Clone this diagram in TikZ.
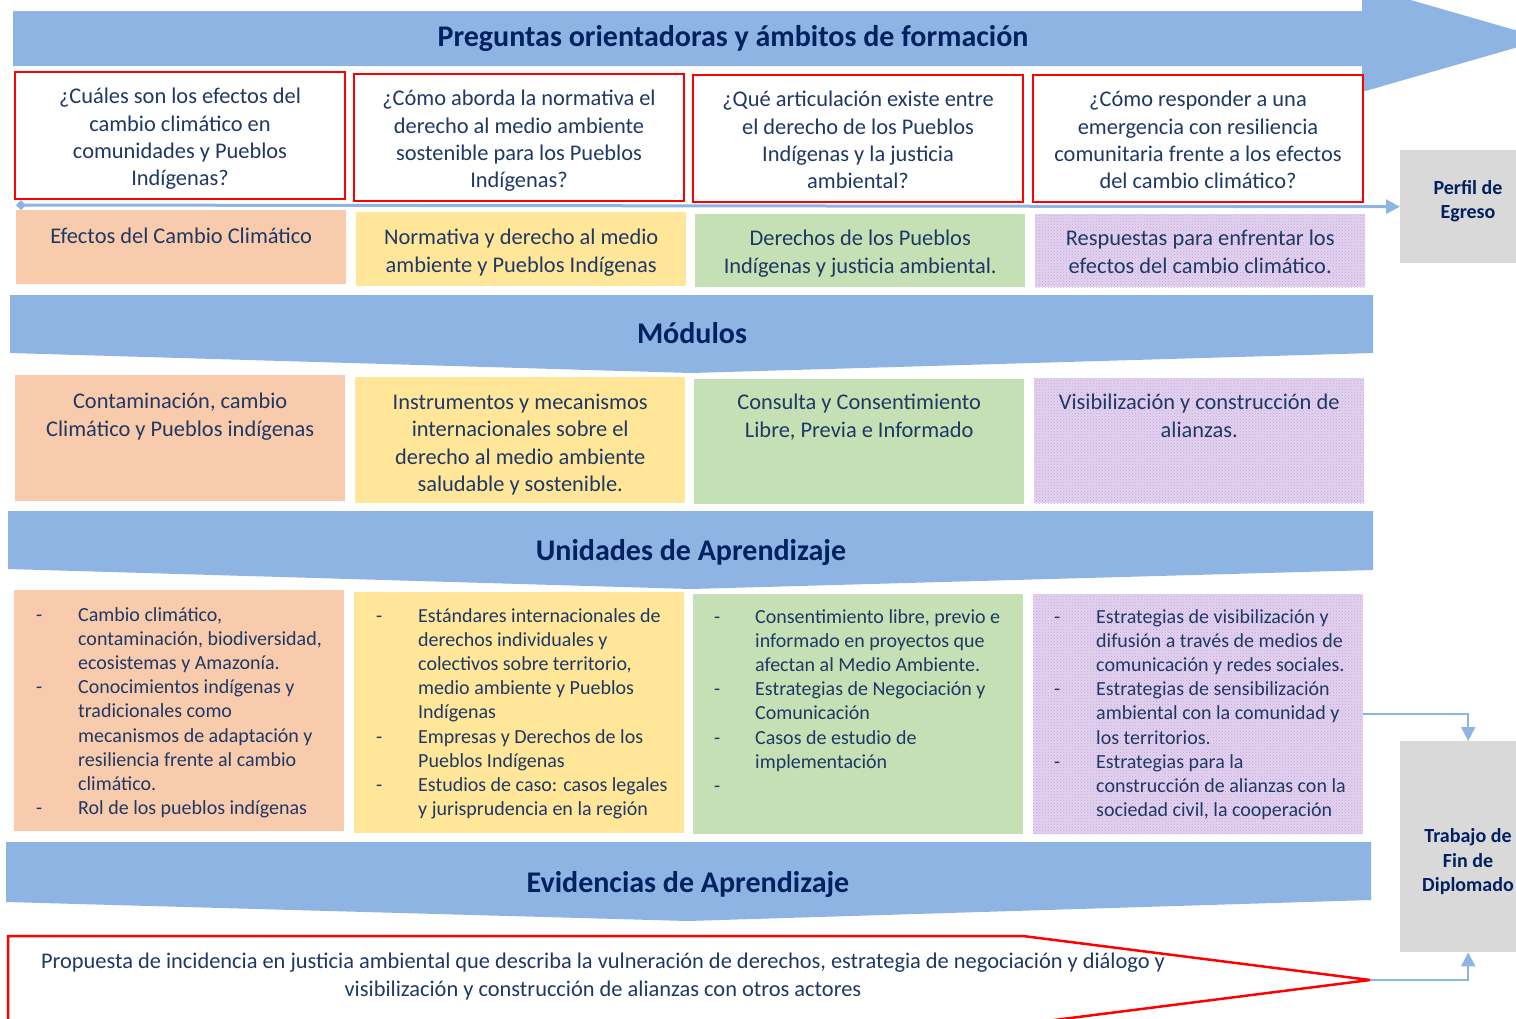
\documentclass[tikz,border=0pt]{standalone}
\usepackage{fontspec}
\setmainfont{Carlito}
\usetikzlibrary{positioning,patterns,arrows.meta}

\definecolor{banda}{HTML}{8EB4E3}
\definecolor{rojo}{HTML}{FF0000}
\definecolor{durazno}{HTML}{F8CBAD}
\definecolor{amarillo}{HTML}{FFE699}
\definecolor{verde}{HTML}{C5E0B4}
\definecolor{lila}{HTML}{E2D2EF}
\definecolor{lilapunto}{HTML}{C4A8DC}
\definecolor{gris}{HTML}{D9D9D9}
\definecolor{marino}{HTML}{002060}
\definecolor{azultexto}{HTML}{1F3864}

\begin{document}
\begin{tikzpicture}[
		x=1pt, y=-1pt,
		pregunta/.style = {draw=rojo, line width=2pt, fill=white, anchor=north west, inner sep=0pt, minimum width=330pt, minimum height=127pt},
		caja/.style = {anchor=north west, inner sep=0pt, minimum width=330pt},
		morado/.style = {fill=lila, postaction={pattern=crosshatch dots, pattern color=lilapunto}},
		texto/.style = {anchor=north, align=center, inner sep=0pt, text=azultexto, font=\fontsize{22.4}{27.3}\selectfont},
		lista/.style = {anchor=north west, inner sep=0pt, text=azultexto, font=\fontsize{20}{24.2}\selectfont},
		titulo/.style = {anchor=base, inner sep=0pt, text=marino, font=\fontsize{30}{34}\selectfont\bfseries},
		salida/.style = {fill=gris, anchor=north west, inner sep=0pt, minimum width=136pt},
		salidatexto/.style = {align=center, inner sep=0pt, text=marino, font=\fontsize{20}{24.5}\selectfont\bfseries},
		flecha/.style = {draw=banda, line width=2pt, -{Triangle[length=14pt, width=14pt]}}
	]
	\path[use as bounding box, clip] (0,0) rectangle (1516,1018);

	% Banners.
	\fill[banda] (13,11) -- (1362,11) -- (1362,-14) -- (1546,39) -- (1362,92) -- (1362,66) -- (13,66) -- cycle;
	\fill[banda] (10,295) -- (1373,295) -- (1373,353) -- (691,373) -- (10,353) -- cycle;
	\fill[banda] (8,511) -- (1373,511) -- (1373,570) -- (691,589) -- (8,569) -- cycle;
	\fill[banda] (6,842) -- (1371,842) -- (1371,900) -- (688,921) -- (6,902) -- cycle;
	\node[titulo] (tpreg) at (733,46) {Preguntas orientadoras y ámbitos de formación};
	\node[titulo] (tmod) at (692,343) {Módulos};
	\node[titulo] (tuni) at (691,560) {Unidades de Aprendizaje};
	\node[titulo] (tevi) at (688,892) {Evidencias de Aprendizaje};

	% Preguntas.
	\node[pregunta] (q1) at (14,71) {};
	\node[pregunta] (q2) at (353,73) {};
	\node[pregunta] (q3) at (692,74) {};
	\node[pregunta] (q4) at (1032,74) {};
	\node[texto, below=17pt of q1.north] {¿Cuáles son los efectos del\\cambio climático en\\comunidades y Pueblos\\Indígenas?};
	\node[texto, below=17pt of q2.north] {¿Cómo aborda la normativa el\\derecho al medio ambiente\\sostenible para los Pueblos\\Indígenas?};
	\node[texto, below=17pt of q3.north] {¿Qué articulación existe entre\\el derecho de los Pueblos\\Indígenas y la justicia\\ambiental?};
	\node[texto, below=17pt of q4.north] {¿Cómo responder a una\\emergencia con resiliencia\\comunitaria frente a los efectos\\del cambio climático?};

	% Ambitos.
	\node[caja, fill=durazno, minimum height=74pt] (a1) at (16,210) {};
	\node[caja, fill=amarillo, minimum height=74pt] (a2) at (356,212) {};
	\node[caja, fill=verde, minimum height=73pt] (a3) at (695,214) {};
	\node[caja, morado, minimum height=73pt] (a4) at (1035,214) {};
	\node[texto, below=18pt of a1.north] {Efectos del Cambio Climático};
	\node[texto, below=17pt of a2.north] {Normativa y derecho al medio\\ambiente y Pueblos Indígenas};
	\node[texto, below=16pt of a3.north] {Derechos de los Pueblos\\Indígenas y justicia ambiental.};
	\node[texto, below=16pt of a4.north] {Respuestas para enfrentar los\\efectos del cambio climático.};

	% Linea hacia el perfil.
	\node[salida, minimum height=113pt] (perfil) at (1400,150) {};
	\node[salidatexto] at (1468,201) {Perfil de\\Egreso};
	\coordinate (inicio) at (16,205);
	\draw[draw=banda, line width=3pt, {Diamond[length=10pt, width=10pt]}-{Triangle[length=14pt, width=14pt]}] (inicio) -- (perfil.west);

	% Modulos.
	\node[caja, fill=durazno, minimum height=126pt] (m1) at (15,375) {};
	\node[caja, fill=amarillo, minimum height=126pt] (m2) at (355,377) {};
	\node[caja, fill=verde, minimum height=125pt] (m3) at (694,379) {};
	\node[caja, morado, minimum height=125pt] (m4) at (1034,378) {};
	\node[texto, below=18pt of m1.north] {Contaminación, cambio\\Climático y Pueblos indígenas};
	\node[texto, below=17pt of m2.north] {Instrumentos y mecanismos\\internacionales sobre el\\derecho al medio ambiente\\saludable y sostenible.};
	\node[texto, below=15pt of m3.north] {Consulta y Consentimiento\\Libre, Previa e Informado};
	\node[texto, below=16pt of m4.north] {Visibilización y construcción de\\alianzas.};

	% Unidades.
	\node[caja, fill=durazno, minimum height=241pt] (u1) at (14,590) {};
	\node[caja, fill=amarillo, minimum height=241pt] (u2) at (354,592) {};
	\node[caja, fill=verde, minimum height=240pt] (u3) at (693,594) {};
	\node[caja, morado, minimum height=240pt] (u4) at (1033,594) {};
	\node[lista, below right=14pt and 22pt of u1.north west] {\begin{tabular}{@{}p{42pt}@{}l@{}}
		- & Cambio climático,\\
		  & contaminación, biodiversidad,\\
		  & ecosistemas y Amazonía.\\
		- & Conocimientos indígenas y\\
		  & tradicionales como\\
		  & mecanismos de adaptación y\\
		  & resiliencia frente al cambio\\
		  & climático.\\
		- & Rol de los pueblos indígenas
	\end{tabular}};
	\node[lista, below right=13pt and 22pt of u2.north west] {\begin{tabular}{@{}p{42pt}@{}l@{}}
		- & Estándares internacionales de\\
		  & derechos individuales y\\
		  & colectivos sobre territorio,\\
		  & medio ambiente y Pueblos\\
		  & Indígenas\\
		- & Empresas y Derechos de los\\
		  & Pueblos Indígenas\\
		- & Estudios de caso: casos legales\\
		  & y jurisprudencia en la región
	\end{tabular}};
	\node[lista, below right=12pt and 21pt of u3.north west] {\begin{tabular}{@{}p{41pt}@{}l@{}}
		- & Consentimiento libre, previo e\\
		  & informado en proyectos que\\
		  & afectan al Medio Ambiente.\\
		- & Estrategias de Negociación y\\
		  & Comunicación\\
		- & Casos de estudio de\\
		  & implementación\\
		- &
	\end{tabular}};
	\node[lista, below right=12pt and 21pt of u4.north west] {\begin{tabular}{@{}p{42pt}@{}l@{}}
		- & Estrategias de visibilización y\\
		  & difusión a través de medios de\\
		  & comunicación y redes sociales.\\
		- & Estrategias de sensibilización\\
		  & ambiental con la comunidad y\\
		  & los territorios.\\
		- & Estrategias para la\\
		  & construcción de alianzas con la\\
		  & sociedad civil, la cooperación
	\end{tabular}};

	% Evidencia y trabajo final.
	\draw[draw=rojo, line width=2.5pt, fill=white] (8,936) -- (1023,936) -- (1370,980) -- (1023,1024) -- (8,1024) -- cycle;
	\coordinate (punta) at (1370,980);
	\node[texto] (evidencia) at (603,953) {Propuesta de incidencia en justicia ambiental que describa la vulneración de derechos, estrategia de negociación y diálogo y\\visibilización y construcción de alianzas con otros actores};
	\node[salida, minimum height=211pt] (trabajo) at (1400,741) {};
	\node[salidatexto] at (1468,862) {Trabajo de\\Fin de\\Diplomado};
	\draw[flecha] (u4.east) -| (trabajo.north);
	\draw[flecha] (punta) -| (trabajo.south);
\end{tikzpicture}
\end{document}
